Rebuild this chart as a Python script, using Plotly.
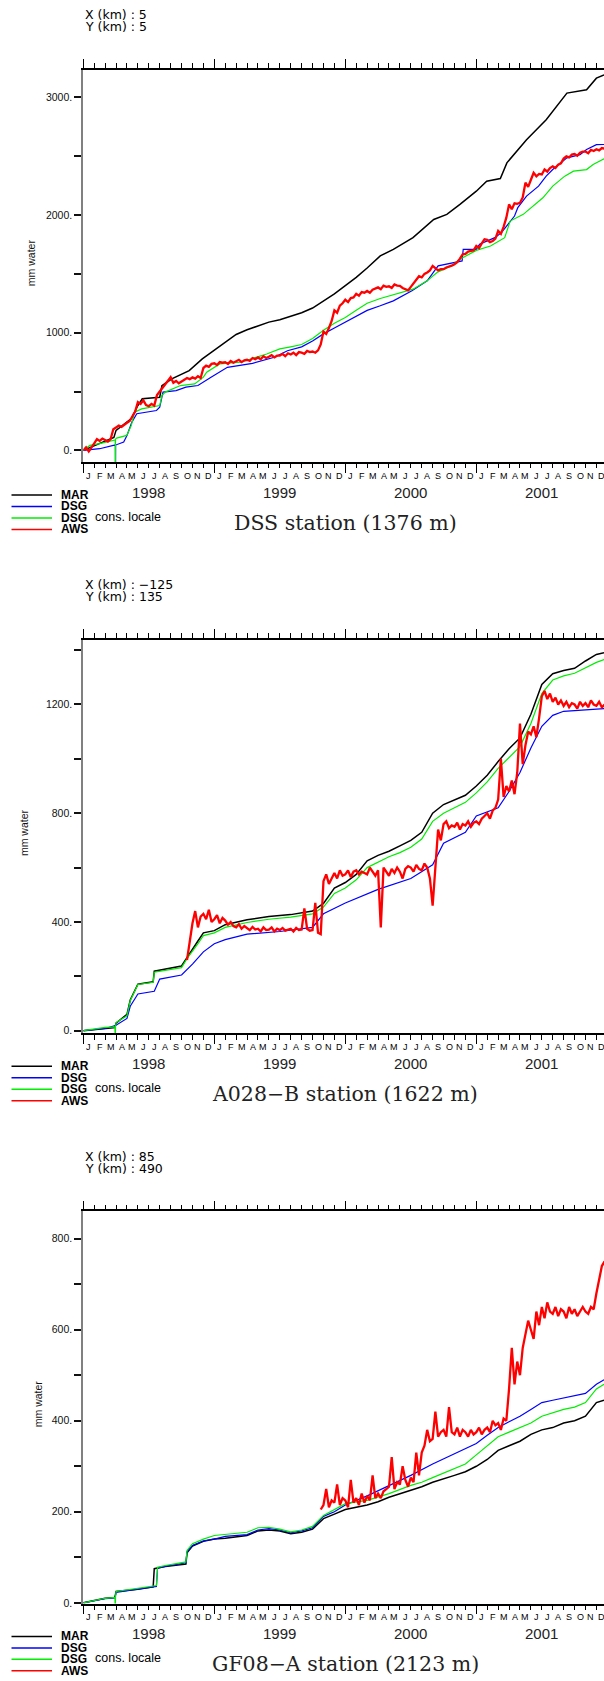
import plotly.graph_objects as go

# ---------------- data (time in months since 1 Jan 1998) ----------------
month_letters = ["J", "F", "M", "A", "M", "J", "J", "A", "S", "O", "N", "D"]
year_labels = ["1998", "1999", "2000", "2001"]
series_names = ["MAR", "DSG", "DSG", "AWS"]

# ---- Panel 1 : DSS station
p1_mar_t = [0, 1, 2, 2.8, 3.0, 4.0, 4.4, 5.0, 5.4, 7.0, 7.2, 8.1, 9.7, 10.9, 12.2, 13, 14, 15, 16, 17, 18, 19, 20, 21, 22, 23, 24, 25, 26,
            27.2, 28.4, 30.2, 32.1, 33.3, 34.5, 36.0, 36.95, 38.2, 38.8, 39.8, 40.6, 42.4, 44.3, 46.1, 47.0, 47.7]
p1_mar_v = [0, 40, 75, 110, 170, 240, 270, 381, 438, 452, 549, 608, 678, 777, 862, 920, 985, 1025, 1060, 1090, 1110, 1140, 1170, 1210, 1270, 1330, 1400, 1470, 1550,
            1653, 1709, 1808, 1963, 2006, 2091, 2203, 2288, 2310, 2444, 2557, 2641, 2811, 3037, 3065, 3164, 3192]

p1_dsg_t = [0, 1.5, 2.75, 2.94, 2.95, 2.96, 3.7, 4.0, 4.45, 4.9, 6.7, 7.0, 7.3, 8.5, 9.4, 10.5, 11.7, 13.2, 15.5, 17.5, 18.7, 20, 21, 22, 23, 24, 25, 26,
            27.2, 28.4, 30.1, 31.5, 32.5, 34.7, 34.8, 36.0, 36.3, 37.7, 38.3, 38.8, 39.5, 39.8, 40.6, 41.7, 42.4, 43.0, 44.3, 45.5, 46.1, 47.0, 47.7]
p1_dsg_v = [0, 14, 42, 45, -300, 45, 71, 127, 240, 311, 339, 367, 495, 508, 537, 551, 622, 706, 740, 791, 847, 880, 930, 990, 1040, 1090, 1140, 1190,
            1229, 1271, 1356, 1441, 1568, 1610, 1709, 1709, 1752, 1808, 1851, 1907, 1992, 2063, 2161, 2246, 2331, 2387, 2486, 2514, 2557, 2599, 2600]

p1_loc_t = [0, 0.6, 1.5, 2.75, 2.93, 2.94, 2.95, 3.05, 3.98, 4.4, 4.7, 5.35, 7.0, 7.2, 7.5, 8.9, 10.2, 11.0, 11.3, 12.5, 14.4, 16.8, 18.0, 19, 20, 21, 22, 23, 24, 25, 26,
            27.2, 29, 30.2, 31.5, 32.4, 33.7, 34.5, 36, 37.3, 38.6, 39.1, 40.3, 41.2, 42.1, 43, 44.1, 44.9, 46.1, 46.7, 47.7]
p1_loc_v = [0, 42, 57, 85, 88, -300, 95, 104, 127, 212, 325, 353, 381, 466, 495, 551, 565, 622, 664, 735, 749, 819, 862, 880, 900, 950, 1020, 1080, 1130, 1190, 1250,
            1291, 1342, 1370, 1441, 1512, 1568, 1625, 1700, 1737, 1808, 1949, 2006, 2076, 2147, 2246, 2331, 2373, 2387, 2430, 2478]

p1_aws_start = 0.0
p1_aws_v = [
    0, 25, -10, 30,
    60, 95, 80, 100,
    85, 75, 95, 180,
    195, 210, 200, 220,
    235, 250, 290, 330,
    410, 395, 425, 385,
    375, 395, 380, 470,
    500, 530, 560, 600,
    622, 575, 590, 570,
    585, 600, 615, 605,
    620, 610, 630, 615,
    700, 720, 710, 735,
    740, 725, 750, 745,
    750, 735, 760, 745,
    755, 770, 750, 765,
    770, 760, 785, 775,
    790, 775, 800, 785,
    795, 810, 790, 805,
    805, 820, 800, 825,
    815, 830, 810, 835,
    830, 820, 845, 835,
    840, 830, 850, 900,
    1010, 990, 1040, 1100,
    1190, 1170, 1230, 1250,
    1280, 1260, 1295, 1300,
    1330, 1315, 1345, 1340,
    1355, 1340, 1365, 1375,
    1385, 1370, 1400, 1390,
    1395, 1380, 1410, 1400,
    1398, 1380, 1370, 1360,
    1390, 1420, 1450, 1480,
    1470, 1500, 1512, 1530,
    1568, 1545, 1530, 1540,
    1540, 1555, 1560, 1570,
    1582, 1600, 1630, 1667,
    1670, 1690, 1695, 1700,
    1737, 1720, 1760, 1794,
    1790, 1770, 1780, 1800,
    1865, 1840, 1900, 1978,
    2091, 2050, 2100, 2095,
    2105, 2150, 2275, 2240,
    2300, 2359, 2330, 2350,
    2345, 2387, 2370, 2400,
    2415, 2400, 2429, 2440,
    2480, 2500, 2490, 2514,
    2520, 2505, 2530, 2540,
    2540, 2525, 2555, 2545,
    2560, 2550, 2570, 2565,
]

# ---- Panel 2 : A028-B station
p2_mar_t = [0, 2, 2.9, 3.0, 4.0, 4.3, 5.0, 6.4, 6.5, 9.0, 9.5, 10.5, 11.0, 12, 13, 15, 17, 19, 21, 22, 23, 24, 25, 26, 27, 28, 29, 30,
            31, 32, 33, 34, 35, 36, 37, 38, 39, 40, 41, 42, 43, 44, 45, 46, 47, 47.7]
p2_mar_v = [0, 10, 12, 28, 60, 113, 171, 180, 219, 238, 270, 330, 360, 368, 390, 408, 420, 427, 440, 468, 525, 545, 575, 625, 645, 660, 680, 700,
            730, 800, 832, 850, 866, 900, 940, 990, 1037, 1077, 1164, 1274, 1313, 1325, 1333, 1360, 1384, 1390]

p2_dsg_t = [0, 2, 3, 4, 4.3, 5.0, 6.5, 7, 9, 10, 11, 12, 13, 15, 18, 21, 22, 24, 27, 30, 32, 33, 35, 36, 38, 39, 40, 41, 42, 43, 44, 47.7]
p2_dsg_v = [0, 8, 20, 45, 90, 135, 145, 190, 205, 245, 290, 320, 335, 355, 365, 380, 430, 470, 520, 560, 610, 690, 730, 790, 820, 880, 950, 1040, 1120, 1160, 1175, 1185]

p2_loc_t = [0, 2, 2.9, 2.93, 2.95, 3.0, 4.0, 4.3, 5.0, 6.4, 6.5, 9.0, 9.5, 10.5, 11.0, 12, 13, 15, 17, 19, 21, 22, 23, 24, 25, 26, 27, 28, 29, 30,
            31, 32, 33, 34, 35, 36, 37, 38, 39, 40, 41, 42, 43, 44, 45, 46, 47, 47.7]
p2_loc_v = [0, 12, 14, -50, 14, 30, 55, 110, 170, 178, 215, 232, 265, 320, 350, 360, 380, 398, 410, 418, 430, 455, 505, 525, 555, 600, 620, 640, 655, 675,
            705, 770, 800, 820, 840, 875, 915, 965, 1005, 1045, 1130, 1240, 1290, 1305, 1315, 1335, 1355, 1365]

p2_aws_start = 9.5
p2_aws_v = [
    260, 330,
    395, 440, 380, 420,
    430, 410, 445, 400,
    410, 425, 395, 415,
    405, 390, 400, 385,
    380, 392, 375, 385,
    378, 370, 382, 372,
    375, 365, 380, 370,
    372, 380, 365, 375,
    370, 378, 368, 372,
    375, 365, 378, 370,
    372, 450, 375, 368,
    370, 470, 360, 355,
    550, 575, 540, 560,
    580, 560, 590, 570,
    575, 590, 565, 585,
    590, 575, 585, 580,
    575, 600, 585, 570,
    590, 380, 600, 585,
    570, 595, 580, 600,
    585, 560, 595, 605,
    600, 585, 610, 595,
    590, 615, 600, 560,
    460, 600, 740, 700,
    760, 770, 745, 755,
    750, 765, 740, 760,
    755, 770, 750, 765,
    770, 760, 780, 790,
    800, 780, 810, 820,
    850, 1000, 860, 900,
    880, 920, 870, 950,
    1130, 980, 1050, 1100,
    1090, 1120, 1080, 1150,
    1230, 1250, 1220, 1240,
    1210, 1225, 1200, 1215,
    1195, 1210, 1190, 1205,
    1200, 1185, 1210, 1195,
    1205, 1190, 1215, 1200,
    1195, 1210, 1190, 1200,
]

# ---- Panel 3 : GF08-A station
p3_mar_t = [0, 2, 2.9, 3.0, 5, 6.4, 6.5, 7.5, 9.4, 9.5, 10, 11, 12, 13, 15, 16, 17, 18, 19, 20, 21, 22, 23, 24, 26, 27, 28, 30,
            31, 32, 33, 34, 35, 36, 37, 38, 39, 40, 41, 42, 43, 44, 45, 46, 47, 47.7]
p3_mar_v = [0, 10, 12, 25, 30, 35, 75, 80, 85, 110, 125, 135, 140, 142, 148, 158, 160, 158, 152, 155, 162, 185, 195, 205, 215, 222, 232, 248,
            255, 265, 272, 280, 288, 300, 315, 335, 345, 355, 370, 380, 385, 395, 400, 410, 440, 445]

p3_dsg_t = [0, 2, 2.9, 3.0, 5, 6.7, 6.8, 7.5, 9.4, 9.5, 10, 11, 12, 13, 15, 16, 17, 18, 19, 20, 21, 22, 23, 24, 26, 28, 30,
            32, 34, 36, 37, 38, 39, 40, 41, 42, 43, 44, 45, 46, 47, 47.7]
p3_dsg_v = [0, 9, 11, 23, 30, 36, 76, 80, 88, 112, 126, 136, 140, 146, 150, 160, 163, 160, 154, 158, 165, 190, 200, 215, 235, 258, 280,
            305, 328, 350, 368, 385, 398, 410, 425, 440, 445, 450, 455, 460, 480, 490]

p3_loc_t = [0, 2, 2.9, 2.93, 2.95, 3.0, 5, 6.7, 6.8, 7.5, 9.4, 9.5, 10, 11, 12, 13, 15, 16, 17, 18, 19, 20, 21, 22, 23, 24, 26, 27, 28, 30,
            31, 32, 33, 34, 35, 36, 37, 38, 39, 40, 41, 42, 43, 44, 45, 46, 47, 47.7]
p3_loc_v = [0, 10, 12, -20, 12, 25, 32, 38, 78, 82, 90, 115, 130, 140, 148, 150, 155, 165, 166, 162, 156, 160, 168, 192, 205, 218, 225, 232, 240, 258,
            265, 275, 285, 295, 305, 325, 345, 365, 375, 385, 395, 410, 418, 425, 430, 440, 470, 480]

p3_aws_start = 21.75
p3_aws_v = [
    205,
    215, 250, 210, 225,
    220, 260, 215, 230,
    225, 210, 270, 220,
    230, 215, 240, 220,
    235, 225, 280, 230,
    240, 230, 245, 250,
    255, 320, 250, 265,
    260, 300, 270, 255,
    275, 265, 330, 280,
    330, 345, 380, 355,
    360, 420, 365, 375,
    380, 365, 430, 375,
    370, 385, 365, 380,
    375, 365, 380, 370,
    375, 385, 370, 380,
    385, 375, 400, 390,
    395, 380, 405, 400,
    470, 560, 480, 530,
    500, 560, 590, 620,
    600, 580, 640, 610,
    650, 625, 660, 640,
    635, 650, 630, 645,
    640, 625, 650, 635,
    645, 630, 640, 650,
    640, 635, 650, 645,
    680, 710, 740, 750,
]
AWS_STEP = 0.25  # sampling interval of the AWS records (months)

# ---------------- layout constants ----------------
W, H = 604, 1681
X0 = 83.3          # px, left edge of plotting area (1 Jan 1998)
MONTH_PX = 10.917  # px per month
X_END = (W - X0) / MONTH_PX

COLORS = ["#000000", "#0000ff", "#00ee00", "#ff0000"]
WIDTHS = [1.5, 1.2, 1.2, 2.3]
SANS = "Liberation Sans, Arial, Helvetica, sans-serif"

panels = [
    dict(top=70.0, bottom=463.5, yrange=[-100, 3235], yticks=list(range(0, 3001, 500)), ystep_label=1000,
         xkm="5", ykm="5", title="DSS station (1376 m)", ytitle_x=31.7,
         series=[(p1_mar_t, p1_mar_v), (p1_dsg_t, p1_dsg_v), (p1_loc_t, p1_loc_v),
                 ([p1_aws_start + AWS_STEP * i for i in range(len(p1_aws_v))], p1_aws_v)]),
    dict(top=641.7, bottom=1036.5, yrange=[-10, 1438], yticks=list(range(0, 1401, 200)), ystep_label=400,
         xkm="\u2212125", ykm="135", title="A028\u2212B station (1622 m)", ytitle_x=24,
         series=[(p2_mar_t, p2_mar_v), (p2_dsg_t, p2_dsg_v), (p2_loc_t, p2_loc_v),
                 ([p2_aws_start + AWS_STEP * i for i in range(len(p2_aws_v))], p2_aws_v)]),
    dict(top=1215.0, bottom=1608.3, yrange=[-1.5, 860], yticks=list(range(0, 801, 100)), ystep_label=200,
         xkm="85", ykm="490", title="GF08\u2212A station (2123 m)", ytitle_x=38.3,
         series=[(p3_mar_t, p3_mar_v), (p3_dsg_t, p3_dsg_v), (p3_loc_t, p3_loc_v),
                 ([p3_aws_start + AWS_STEP * i for i in range(len(p3_aws_v))], p3_aws_v)]),
]


def py(px):
    return 1 - px / H


def px_(x):
    return x / W


fig = go.Figure()
annotations = []
shapes = []
layout_axes = {}

for i, p in enumerate(panels):
    n = "" if i == 0 else str(i + 1)
    xa, ya = "x" + n, "y" + n
    for (t, v), col, wd in zip(p["series"], COLORS, WIDTHS):
        fig.add_trace(go.Scatter(x=t, y=v, mode="lines", line=dict(color=col, width=wd),
                                 xaxis=xa, yaxis=ya, showlegend=False, hoverinfo="skip"))

    layout_axes["xaxis" + n] = dict(
        domain=[X0 / W, 1], range=[0, X_END], anchor=ya,
        showline=True, linecolor="black", linewidth=1.6, mirror="ticks",
        ticks="outside", tickmode="array", tickvals=[0, 12, 24, 36, 48], ticklen=9, tickwidth=1.3,
        tickcolor="black", showticklabels=False, showgrid=False, zeroline=False,
        minor=dict(tickmode="array", tickvals=list(range(49)), ticks="outside", ticklen=4.5,
                   tickwidth=1.3, tickcolor="black", showgrid=False),
    )
    ytext = [(f"{v}." if v % p["ystep_label"] == 0 else "") for v in p["yticks"]]
    layout_axes["yaxis" + n] = dict(
        domain=[py(p["bottom"]), py(p["top"])], range=p["yrange"], anchor=xa,
        showline=True, linecolor="#808080", linewidth=2,
        ticks="outside", tickmode="array", tickvals=p["yticks"], ticktext=ytext,
        ticklen=7, tickwidth=1.6, tickcolor="#111111",
        tickfont=dict(family=SANS, size=10.5, color="#111111"),
        showgrid=False, zeroline=False,
    )

    B, T = p["bottom"], p["top"]
    # header text
    for txt, off in ((f"X (km) : {p['xkm']}", 55), (f"Y (km) : {p['ykm']}", 43)):
        annotations.append(dict(text=txt, x=px_(83), y=py(T - off), xref="paper", yref="paper",
                                xanchor="left", yanchor="middle", showarrow=False,
                                font=dict(family="DejaVu Sans, sans-serif", size=12.5, color="black")))
    # month letters
    for k in range(48):
        annotations.append(dict(text=month_letters[k % 12], x=k + 0.5, xref=xa, y=py(B + 14), yref="paper",
                                xanchor="center", yanchor="middle", showarrow=False,
                                font=dict(family=SANS, size=9, color="black")))
    for k, yl in enumerate(year_labels):
        annotations.append(dict(text=yl, x=12 * k + 6, xref=xa, y=py(B + 30), yref="paper",
                                xanchor="center", yanchor="middle", showarrow=False,
                                font=dict(family=SANS, size=15, color="#222222")))
    # y title
    annotations.append(dict(text="mm water", textangle=-90, x=px_(p["ytitle_x"]), y=py((T + B) / 2 - 3.5),
                            xref="paper", yref="paper", xanchor="center", yanchor="middle", showarrow=False,
                            font=dict(family=SANS, size=10.5, color="#111111")))
    # station title
    annotations.append(dict(text=p["title"], x=px_(345), y=py(B + 61), xref="paper", yref="paper",
                            xanchor="center", yanchor="middle", showarrow=False,
                            font=dict(family="DejaVu Serif, serif", size=20.5, color="#222222")))
    # legend
    for k, (name, col) in enumerate(zip(series_names, COLORS)):
        yy = B + 33 + 11.5 * k
        shapes.append(dict(type="line", xref="paper", yref="paper", x0=px_(11.5), x1=px_(52),
                           y0=py(yy), y1=py(yy), line=dict(color=col, width=1.5)))
        annotations.append(dict(text=f"<b>{name}</b>", x=px_(59), y=py(yy), xref="paper", yref="paper",
                                xanchor="left", yanchor="middle", showarrow=False,
                                font=dict(family="Liberation Sans Narrow, " + SANS, size=12, color="black")))
        if k == 2:
            annotations.append(dict(text="cons. locale", x=px_(93), y=py(yy - 1), xref="paper", yref="paper",
                                    xanchor="left", yanchor="middle", showarrow=False,
                                    font=dict(family=SANS, size=12.5, color="black")))

fig.update_layout(
    width=W, height=H, margin=dict(l=0, r=0, t=0, b=0),
    paper_bgcolor="white", plot_bgcolor="white", showlegend=False,
    annotations=annotations, shapes=shapes, **layout_axes,
)

fig.write_html("out.html", config={"displayModeBar": False},
               post_script="document.body.style.margin='0';document.body.style.overflow='hidden';")
